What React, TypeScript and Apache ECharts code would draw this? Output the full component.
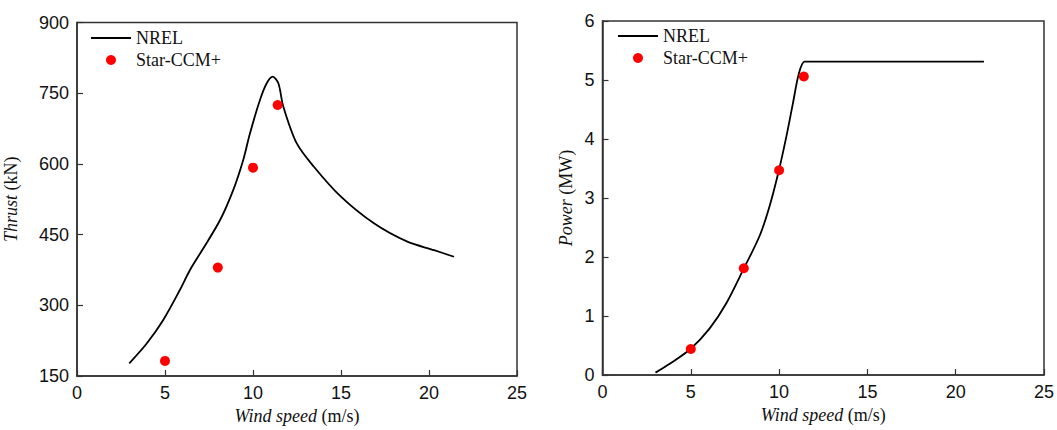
import React, { useEffect, useRef } from "react";
import * as echarts from "echarts";

const thrustWind = [2.97, 3.96, 4.9, 5.85, 6.42, 7.18, 8.13, 8.88, 9.45, 9.83, 10.4, 10.78, 11.12, 11.44, 11.72, 12.48, 13.46, 14.98, 16.87, 18.77, 20.29, 21.42];
const thrustNREL = [177, 219, 269, 333, 375, 421, 481, 545, 609, 665, 736, 771, 785, 771, 722, 644, 594, 531, 474, 435, 417, 403];
const powerWind = [3.0, 3.81, 4.98, 6.07, 7.02, 8.01, 8.9, 9.46, 9.99, 10.41, 10.78, 11.12, 11.44, 11.8, 21.6];
const powerNREL = [0.04, 0.19, 0.44, 0.79, 1.22, 1.81, 2.36, 2.86, 3.47, 4.04, 4.6, 5.11, 5.31, 5.31, 5.31];
const cfdWind = [5, 8, 10, 11.4];
const thrustCFD = [182, 380, 592, 725];
const powerCFD = [0.44, 1.81, 3.47, 5.06];

const xTicks = { min: 0, max: 25, interval: 5 };
const thrustTicks = { min: 150, max: 900, interval: 150 };
const powerTicks = { min: 0, max: 6, interval: 1 };

const SERIF = "'Liberation Serif', 'Times New Roman', serif";
const SANS = "'Liberation Sans', Arial, sans-serif";
const AXIS_COLOR = "#333";

function zip(a: number[], b: number[]) {
  return a.map((v, i) => [v, b[i]]);
}

export default function App() {
  const ref = useRef<HTMLDivElement>(null);
  useEffect(() => {
    document.body.style.margin = "0";
    if (!ref.current) return;
    const chart = echarts.init(ref.current, undefined, { renderer: "svg" });
    const axisCommon = {
      axisLine: { show: true, lineStyle: { color: AXIS_COLOR, width: 1.5 } },
      axisTick: { show: true, inside: true, length: 6, lineStyle: { color: AXIS_COLOR, width: 1.2 } },
      splitLine: { show: false },
      axisLabel: { color: "#111", fontFamily: SANS, fontSize: 18, showMinLabel: true, showMaxLabel: true, margin: 8 },
    };
    const nameStyle = () => ({
      fontFamily: SERIF,
      fontSize: 18,
      color: "#111",
      rich: { i: { fontFamily: SERIF, fontSize: 18, fontStyle: "italic", color: "#111" } },
    });
    const legendCommon = {
      orient: "vertical",
      itemWidth: 40,
      itemHeight: 10,
      itemGap: 4,
      textStyle: { fontFamily: SERIF, fontSize: 18, color: "#111" },
      data: [
        { name: "NREL", icon: "path://M0,0 L40,0 L40,1.8 L0,1.8 Z", itemStyle: { color: "#000" } },
        { name: "Star-CCM+", icon: "circle", itemStyle: { color: "#ff0000" } },
      ],
      selectedMode: false,
    };
    chart.setOption({
      animation: false,
      backgroundColor: "#fff",
      grid: [
        { left: 77, top: 22.5, width: 440, height: 353.5, show: true, borderColor: AXIS_COLOR, borderWidth: 1.5 },
        { left: 602.5, top: 21, width: 442.5, height: 354, show: true, borderColor: AXIS_COLOR, borderWidth: 1.5 },
      ],
      legend: [
        { ...legendCommon, left: 86, top: 24 },
        { ...legendCommon, left: 613, top: 22 },
      ],
      xAxis: [0, 1].map((g) => ({
        type: "value",
        gridIndex: g,
        ...xTicks,
        ...axisCommon,
        name: "{i|Wind speed} (m/s)",
        nameLocation: "middle",
        nameGap: 31,
        nameTextStyle: nameStyle(),
      })),
      yAxis: [
        {
          type: "value",
          gridIndex: 0,
          ...thrustTicks,
          ...axisCommon,
          name: "{i|Thrust} (kN)",
          nameLocation: "middle",
          nameGap: 57,
          nameTextStyle: nameStyle(),
        },
        {
          type: "value",
          gridIndex: 1,
          ...powerTicks,
          ...axisCommon,
          name: "{i|Power} (MW)",
          nameLocation: "middle",
          nameGap: 28,
          nameTextStyle: nameStyle(),
        },
      ],
      series: [
        {
          name: "NREL",
          type: "line",
          xAxisIndex: 0,
          yAxisIndex: 0,
          data: zip(thrustWind, thrustNREL),
          symbol: "none",
          smooth: 0.3,
          lineStyle: { color: "#000", width: 1.8 },
          itemStyle: { color: "#000" },
          z: 2,
        },
        {
          name: "Star-CCM+",
          type: "scatter",
          xAxisIndex: 0,
          yAxisIndex: 0,
          data: zip(cfdWind, thrustCFD),
          symbol: "circle",
          symbolSize: 10,
          itemStyle: { color: "#ff0000", opacity: 1 },
          z: 3,
        },
        {
          name: "NREL",
          type: "line",
          xAxisIndex: 1,
          yAxisIndex: 1,
          data: zip(powerWind, powerNREL),
          symbol: "none",
          smooth: 0.3,
          lineStyle: { color: "#000", width: 1.8 },
          itemStyle: { color: "#000" },
          z: 2,
        },
        {
          name: "Star-CCM+",
          type: "scatter",
          xAxisIndex: 1,
          yAxisIndex: 1,
          data: zip(cfdWind, powerCFD),
          symbol: "circle",
          symbolSize: 10,
          itemStyle: { color: "#ff0000", opacity: 1 },
          z: 3,
        },
      ],
    });
    return () => chart.dispose();
  }, []);
  return <div ref={ref} style={{ width: 1057, height: 430 }} />;
}
